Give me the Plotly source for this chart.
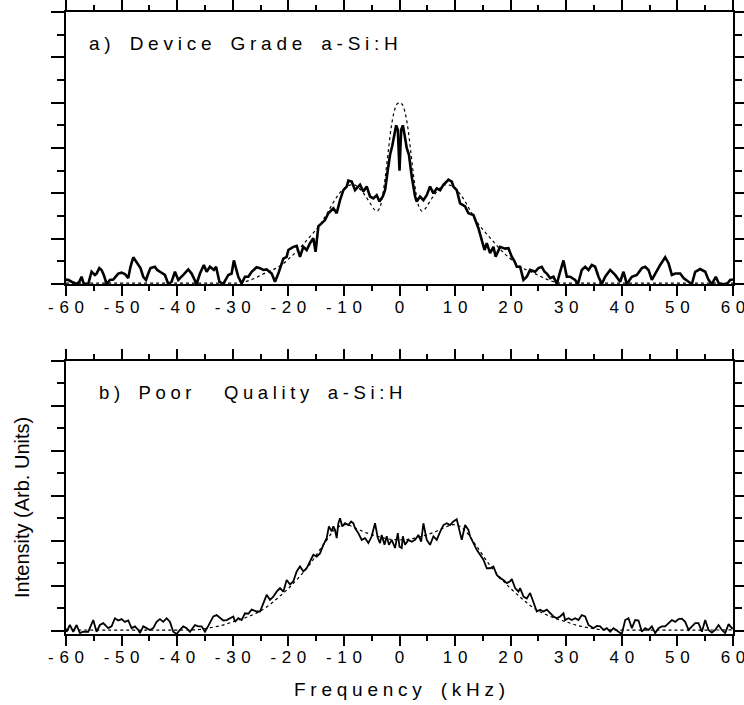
import plotly.graph_objects as go

# ---------------- data ----------------
# panel a) Device Grade a-Si:H  -- measured spectrum
a_freq = [
    -60.0, -59.6, -59.0, -58.1, -57.6, -57.2, -56.8, -56.0, -55.4, -54.8,
    -54.5, -54.0, -53.6, -53.2, -52.7, -52.1, -51.5, -50.6, -50.0, -49.4,
    -48.8, -48.4, -47.9, -47.4, -47.0, -46.6, -46.1, -45.6, -45.2, -44.8,
    -44.0, -43.6, -43.1, -42.2, -41.6, -41.0, -40.4, -39.8, -38.9, -38.0,
    -37.4, -36.5, -35.9, -35.2, -34.7, -34.1, -33.4, -33.0, -32.4, -31.7,
    -30.8, -30.2, -29.8, -29.3, -29.0, -28.4, -27.8, -27.2, -26.6, -25.7,
    -25.1, -24.5, -23.9, -23.0, -22.4, -21.8, -21.4, -20.9, -20.3, -20.0,
    -19.1, -18.5, -17.9, -17.3, -16.7, -16.1, -15.5, -15.1, -14.6, -14.0,
    -13.4, -12.8, -11.9, -11.3, -10.7, -10.1, -9.5, -9.2, -8.6, -8.0,
    -7.4, -7.1, -6.5, -5.9, -5.3, -4.7, -4.1, -3.6, -3.0, -2.6,
    -2.1, -1.7, -1.3, -0.9, -0.6, -0.3, 0.0,
    0.3, 0.6, 0.9, 1.3, 1.7, 2.2, 2.8, 3.1, 3.7, 4.3,
    4.9, 5.5, 6.1, 6.7, 7.3, 7.9, 8.5, 8.8, 9.4, 9.7,
    10.3, 10.9, 11.8, 12.4, 13.3, 13.9, 14.2, 14.8, 15.3, 15.7,
    16.3, 16.9, 17.3, 18.1, 19.0, 19.6, 20.2, 20.7, 21.1, 21.7,
    22.3, 22.9, 23.5, 24.4, 25.0, 25.6, 26.1, 26.5, 27.1, 27.7,
    28.3, 28.9, 29.5, 30.1, 30.7, 31.6, 32.1, 32.8, 33.4, 34.0,
    34.6, 35.2, 35.8, 36.4, 37.0, 37.9, 38.8, 39.7, 40.3, 40.9,
    41.8, 42.7, 43.6, 44.2, 44.8, 45.4, 46.3, 46.9, 47.8, 48.4,
    49.0, 49.6, 50.5, 51.1, 52.0, 52.6, 53.2, 54.1, 55.0, 55.6,
    56.2, 56.9, 57.5, 58.9, 59.5, 60.0,
]
a_intensity = [
    0.09, 0.09, 0.05, 0.0, 0.05, 0.16, 0.0, 0.0, 0.27, 0.2,
    0.23, 0.35, 0.31, 0.2, 0.0, 0.09, 0.1, 0.23, 0.25, 0.22,
    0.13, 0.38, 0.59, 0.49, 0.42, 0.35, 0.16, 0.09, 0.23, 0.35,
    0.38, 0.31, 0.27, 0.2, 0.0, 0.05, 0.27, 0.09, 0.2, 0.32,
    0.23, 0.0, 0.23, 0.42, 0.27, 0.38, 0.31, 0.38, 0.05, 0.0,
    0.2, 0.23, 0.52, 0.31, 0.16, 0.01, 0.16, 0.16, 0.27, 0.37,
    0.35, 0.31, 0.32, 0.23, 0.05, 0.23, 0.38, 0.56, 0.6, 0.75,
    0.82, 0.84, 0.6, 0.82, 0.75, 0.9, 1.01, 0.71, 1.27, 1.34,
    1.41, 1.56, 1.67, 1.56, 1.85, 2.07, 2.15, 2.28, 2.26, 2.07,
    2.15, 2.19, 2.04, 2.15, 1.93, 1.89, 1.96, 1.82, 1.93, 2.07,
    2.52, 2.85, 3.05, 3.3, 3.5, 3.4, 2.5,
    3.4, 3.5, 3.3, 3.0, 2.85, 2.37, 1.93, 1.82, 1.93, 1.85,
    1.96, 2.15, 2.0, 2.11, 2.07, 2.19, 2.26, 2.3, 2.26, 2.15,
    2.07, 1.78, 1.71, 1.56, 1.52, 1.34, 1.23, 0.97, 0.75, 0.9,
    0.68, 0.82, 0.6, 0.82, 0.78, 0.79, 0.6, 0.5, 0.38, 0.38,
    0.09, 0.16, 0.31, 0.27, 0.35, 0.38, 0.27, 0.23, 0.13, 0.16,
    0.0, 0.27, 0.52, 0.16, 0.16, 0.09, 0.0, 0.31, 0.38, 0.31,
    0.42, 0.38, 0.16, 0.0, 0.16, 0.31, 0.2, 0.05, 0.27, 0.0,
    0.16, 0.2, 0.35, 0.38, 0.31, 0.09, 0.31, 0.42, 0.59, 0.46,
    0.2, 0.23, 0.23, 0.13, 0.05, 0.0, 0.27, 0.33, 0.27, 0.09,
    0.0, 0.16, 0.0, 0.0, 0.09, 0.1,
]
# panel a) fitted curve (dotted)
a_fit_freq = [
    -60, -40, -30, -29, -28, -27, -26, -25, -24, -23,
    -22, -21, -20, -19, -18, -17, -16, -15, -14, -13,
    -12, -11, -10, -9, -8, -7, -6, -5, -4.5, -4,
    -3.5, -3, -2.5, -2, -1.5, -1, -0.5, 0,
    0.5, 1, 1.5, 2, 2.5, 3, 3.5, 4, 4.5, 5,
    6, 7, 8, 9, 10, 11, 12, 13, 14, 15,
    16, 17, 18, 19, 20, 21, 22, 23, 24, 25,
    26, 27, 28, 29, 30, 40, 60,
]
a_fit = [
    0.02, 0.02, 0.02, 0.02, 0.04, 0.08, 0.13, 0.19, 0.25, 0.3,
    0.36, 0.44, 0.55, 0.66, 0.78, 0.92, 1.06, 1.2, 1.36, 1.56,
    1.78, 1.97, 2.1, 2.18, 2.18, 2.08, 1.92, 1.73, 1.64, 1.61,
    1.7, 1.98, 2.42, 2.95, 3.45, 3.78, 3.96, 4.0,
    3.96, 3.78, 3.45, 2.95, 2.42, 1.98, 1.7, 1.61, 1.64, 1.73,
    1.92, 2.08, 2.18, 2.18, 2.1, 1.97, 1.78, 1.56, 1.36, 1.2,
    1.06, 0.92, 0.78, 0.66, 0.55, 0.44, 0.36, 0.3, 0.25, 0.19,
    0.13, 0.08, 0.04, 0.02, 0.02, 0.02, 0.02,
]

# panel b) Poor Quality a-Si:H -- measured spectrum
b_freq = [
    -60.0, -59.9, -59.3, -58.7, -58.1, -57.5, -56.9, -56.0, -55.1, -54.5,
    -53.9, -53.3, -52.4, -51.8, -51.2, -50.6, -50.0, -49.4, -48.8, -48.2,
    -47.6, -47.0, -46.7, -46.1, -45.5, -44.9, -44.3, -43.7, -43.1, -42.5,
    -41.9, -41.3, -40.7, -40.1, -39.5, -38.9, -38.3, -37.7, -36.8, -36.2,
    -35.6, -35.0, -34.4, -33.5, -32.9, -32.3, -31.7, -31.1, -30.5, -29.9,
    -29.6, -29.0, -28.4, -27.8, -27.2, -26.6, -25.7, -25.1, -24.5, -23.9,
    -23.3, -22.7, -22.1, -21.5, -20.9, -20.3, -19.7, -19.1, -18.5, -17.9,
    -17.3, -16.7, -16.1, -15.5, -14.9, -14.3, -13.7, -13.1, -12.7, -12.2,
    -11.9, -11.6, -11.3, -11.0, -10.7, -10.3, -9.8, -9.2, -8.7, -8.3,
    -8.0, -7.4, -6.8, -6.2, -5.6, -5.0, -4.4, -3.9, -3.5, -3.2,
    -2.7, -2.3, -1.9, -1.4, -0.8, -0.3,
    0.0, 0.4, 0.6, 1.0, 1.6, 2.2, 2.8, 3.4, 3.9, 4.3,
    4.9, 5.5, 6.1, 6.7, 7.3, 7.9, 8.5, 9.1, 9.7, 10.3,
    10.9, 11.2, 11.8, 12.4, 12.7, 13.3, 13.9, 14.5, 15.1, 15.7,
    16.3, 16.9, 17.5, 18.1, 18.7, 19.3, 19.9, 20.2, 20.8, 21.4,
    21.7, 22.3, 22.9, 23.5, 24.1, 24.7, 25.3, 25.9, 26.5, 27.1,
    27.7, 28.3, 28.9, 29.5, 29.8, 30.4, 31.0, 31.6, 32.2, 32.8,
    33.4, 34.0, 34.9, 35.5, 36.1, 36.7, 37.3, 37.9, 38.5, 39.4,
    40.0, 40.6, 41.2, 41.8, 42.4, 43.0, 43.6, 44.2, 44.8, 45.4,
    46.0, 46.6, 47.2, 47.8, 48.4, 49.0, 49.6, 50.2, 50.8, 51.4,
    52.0, 52.6, 53.2, 53.8, 54.4, 55.0, 55.6, 56.2, 56.8, 57.4,
    58.0, 58.6, 59.2, 59.8, 60.0,
]
b_intensity = [
    0.05, -0.02, 0.13, -0.02, 0.13, -0.05, -0.02, -0.02, 0.24, -0.02,
    0.13, 0.17, 0.06, 0.1, 0.28, 0.23, 0.26, 0.2, 0.23, 0.06,
    0.1, 0.02, -0.05, 0.1, 0.06, 0.02, 0.06, 0.2, 0.26, 0.2,
    0.28, 0.2, -0.02, -0.07, 0.02, 0.1, 0.06, -0.02, 0.13, 0.1,
    0.1, -0.02, 0.11, 0.32, 0.35, 0.28, 0.23, 0.24, 0.28, 0.32,
    0.2, 0.28, 0.24, 0.39, 0.38, 0.47, 0.43, 0.43, 0.61, 0.8,
    0.69, 0.76, 0.87, 0.95, 0.87, 1.13, 1.03, 1.1, 1.32, 1.43,
    1.32, 1.39, 1.54, 1.69, 1.65, 1.72, 1.91, 2.06, 2.32, 2.21,
    2.32, 2.24, 2.06, 2.39, 2.5, 2.32, 2.39, 2.35, 2.43, 2.39,
    2.28, 2.17, 2.02, 2.06, 1.95, 2.1, 2.39, 2.06, 1.95, 2.13,
    1.91, 2.1, 1.91, 2.02, 1.84, 2.17,
    1.87, 1.84, 2.1, 1.91, 2.02, 1.98, 2.02, 2.13, 1.98, 2.39,
    2.02, 1.91, 2.1, 2.02, 2.2, 2.35, 2.39, 2.35, 2.43, 2.48,
    2.17, 2.02, 2.35, 2.24, 2.1, 1.95, 1.8, 1.69, 1.58, 1.39,
    1.39, 1.43, 1.24, 1.17, 1.13, 1.06, 1.1, 1.15, 0.95, 0.87,
    0.95, 0.76, 0.72, 0.84, 0.61, 0.43, 0.47, 0.43, 0.47, 0.39,
    0.32, 0.28, 0.32, 0.39, 0.24, 0.28, 0.24, 0.28, 0.24, 0.35,
    0.32, 0.13, 0.06, 0.11, 0.1, 0.02, 0.06, -0.02, 0.06, -0.02,
    -0.07, 0.24, 0.28, 0.06, 0.24, 0.23, -0.02, 0.06, 0.02, 0.1,
    -0.05, 0.06, 0.1, 0.1, 0.17, 0.24, 0.2, 0.26, 0.27, 0.2,
    0.02, 0.1, 0.17, 0.17, -0.02, 0.24, 0.02, -0.04, 0.02, 0.13,
    0.02, -0.05, 0.15, 0.06, 0.05,
]
# panel b) fitted curve (dotted)
b_fit_freq = [
    -60, -38, -36, -34, -32, -30, -28, -26, -24, -22,
    -20, -18, -16, -14, -13, -12, -11, -10, -9, -8,
    -6, -4, -2, 0, 2, 4, 6, 8, 9, 10,
    11, 12, 13, 14, 16, 18, 20, 22, 24, 26,
    28, 30, 32, 34, 36, 38, 60,
]
b_fit = [
    0.02, 0.02, 0.03, 0.07, 0.12, 0.2, 0.28, 0.38, 0.52, 0.72,
    0.94, 1.2, 1.5, 1.86, 2.03, 2.2, 2.31, 2.36, 2.34, 2.29,
    2.18, 2.1, 2.04, 2.02, 2.04, 2.1, 2.18, 2.29, 2.34, 2.36,
    2.31, 2.2, 2.03, 1.86, 1.5, 1.2, 0.94, 0.72, 0.52, 0.38,
    0.28, 0.2, 0.12, 0.07, 0.03, 0.02, 0.02,
]

x_ticks = [-60, -50, -40, -30, -20, -10, 0, 10, 20, 30, 40, 50, 60]
x_tick_labels = ["-60", "-50", "-40", "-30", "-20", "-10", "0",
                 "10", "20", "30", "40", "50", "60"]

title_a = "a) Device Grade a-Si:H"
title_b = "b) Poor  Quality a-Si:H"
x_title = "Frequency (kHz)"
y_title = "Intensity (Arb. Units)"

# ---------------- styling ----------------
FONT = "Liberation Sans, Arial, Helvetica, sans-serif"


def spaced(s, gap):
    # letter-spaced rendering of a label, as in the original figure
    out = []
    for ch in s:
        out.append("\u2002" if ch == " " else ch)
    return gap.join(out)


fig = go.Figure()

fig.add_trace(go.Scatter(x=a_fit_freq, y=a_fit, mode="lines", xaxis="x", yaxis="y",
                         line=dict(color="black", width=1.2, dash="dot", shape="spline"),
                         showlegend=False, hoverinfo="skip"))
fig.add_trace(go.Scatter(x=a_freq, y=a_intensity, mode="lines", xaxis="x", yaxis="y",
                         line=dict(color="black", width=2.6), showlegend=False))
fig.add_trace(go.Scatter(x=b_fit_freq, y=b_fit, mode="lines", xaxis="x2", yaxis="y2",
                         line=dict(color="black", width=1.2, dash="dot", shape="spline"),
                         showlegend=False, hoverinfo="skip"))
fig.add_trace(go.Scatter(x=b_freq, y=b_intensity, mode="lines", xaxis="x2", yaxis="y2",
                         line=dict(color="black", width=1.8), showlegend=False))

tick_text = [spaced(t, "\u2004") for t in x_tick_labels]


def xaxis(anchor):
    return dict(
        anchor=anchor, domain=[0, 1], range=[-60, 60], automargin=False,
        tickmode="array", tickvals=x_ticks, ticktext=tick_text,
        ticks="outside", ticklen=10, tickwidth=2, tickcolor="black",
        ticklabeloverflow="allow", ticklabelstandoff=-3,
        showline=True, linewidth=2, linecolor="black", mirror="ticks",
        showgrid=False, zeroline=False,
        minor=dict(tickmode="linear", tick0=-60, dtick=5, ticks="outside",
                   ticklen=5, tickwidth=2, tickcolor="black", showgrid=False),
        tickfont=dict(family=FONT, size=17, color="black"),
    )


def yaxis(anchor, domain, rng):
    return dict(
        anchor=anchor, domain=domain, range=rng, automargin=False,
        tickmode="linear", tick0=0, dtick=1, showticklabels=False,
        ticks="outside", ticklen=13, tickwidth=2, tickcolor="black",
        showline=True, linewidth=2, linecolor="black", mirror="ticks",
        showgrid=False, zeroline=False,
        minor=dict(tickmode="linear", tick0=0, dtick=0.5, ticks="outside",
                   ticklen=7, tickwidth=2, tickcolor="black", showgrid=False),
    )


fig.update_layout(
    width=744, height=705,
    margin=dict(l=66, r=11, t=12, b=71, autoexpand=False),
    paper_bgcolor="white", plot_bgcolor="white",
    xaxis=xaxis("y"), yaxis=yaxis("x", [0.5627, 1.0], [0, 6]),
    xaxis2=xaxis("y2"), yaxis2=yaxis("x2", [0.0, 0.4394], [-0.07, 6]),
    font=dict(family=FONT, color="black"),
    annotations=[
        dict(text=spaced(title_a, "\u2005"), xref="paper", yref="paper", x=0.0315, y=0.9486,
             xanchor="left", yanchor="middle", showarrow=False,
             font=dict(family=FONT, size=19, color="black")),
        dict(text=spaced(title_b, "\u2005"), xref="paper", yref="paper", x=0.046, y=0.389,
             xanchor="left", yanchor="middle", showarrow=False,
             font=dict(family=FONT, size=18.5, color="black")),
        dict(text=spaced(x_title, "\u2005"), xref="paper", yref="paper", x=0.5, y=-0.09,
             xanchor="center", yanchor="middle", showarrow=False,
             font=dict(family=FONT, size=19, color="black")),
        dict(text=y_title, xref="paper", yref="paper", x=0, xshift=-44, y=0.2026,
             xanchor="center", yanchor="middle", showarrow=False, textangle=-90,
             font=dict(family=FONT, size=20, color="black")),
    ],
)

fig.write_html(
    "out.html",
    config={"displayModeBar": False},
    post_script="document.body.style.margin='0';document.body.style.overflow='hidden';",
)
